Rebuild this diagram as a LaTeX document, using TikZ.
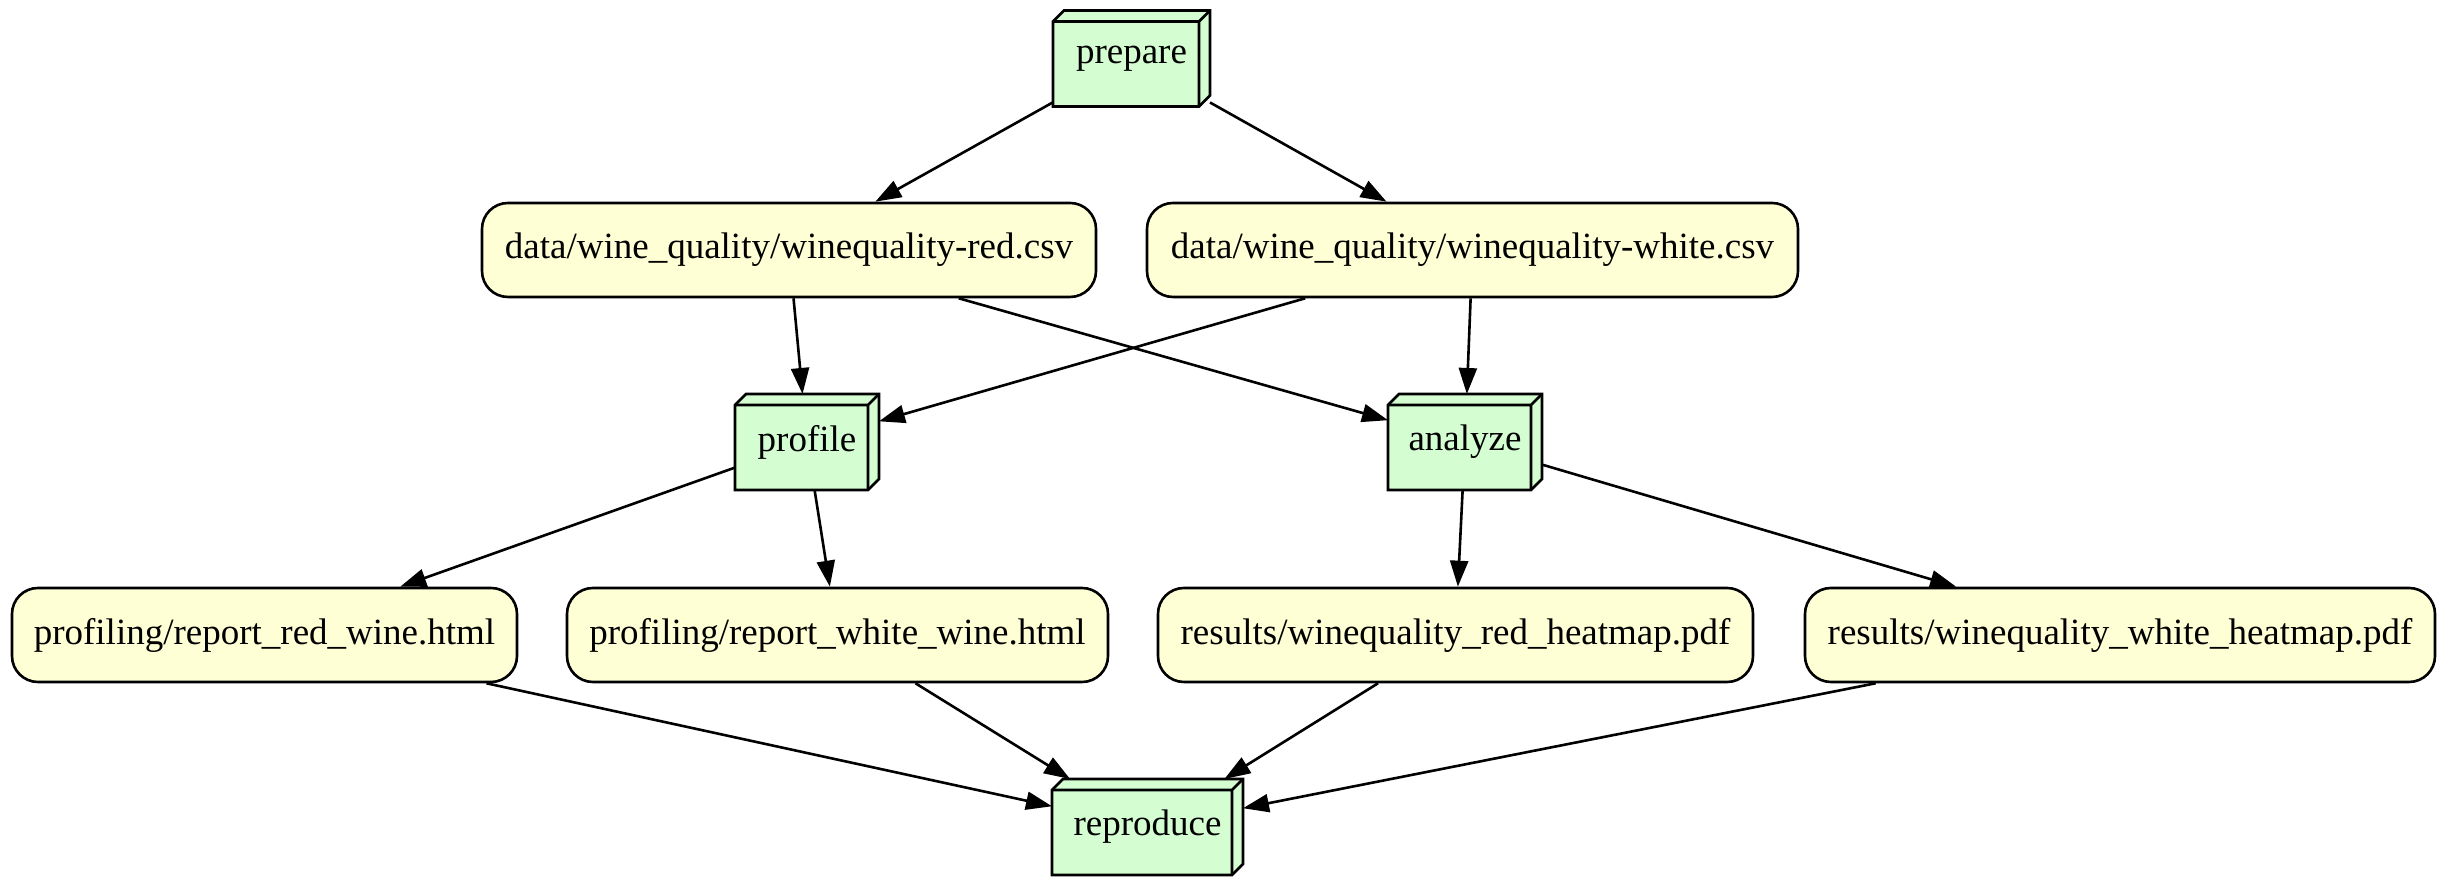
\documentclass[tikz,border=0pt]{standalone}
\usepackage{fontspec}
\setmainfont{Liberation Serif}
\usetikzlibrary{arrows.meta,calc,backgrounds}

\definecolor{taskgreen}{HTML}{D5FDD2}
\definecolor{fileyellow}{HTML}{FFFFD5}

\newcommand{\boxdepth}{5.5pt}
% front, top and side faces of a stage box
\newcommand{\taskfaces}[1]{%
  \filldraw[taskline] ($(#1.north west)+(0,-\boxdepth)$) -- ($(#1.north west)+(\boxdepth,0)$) -- (#1.north east)
    -- ($(#1.south east)+(0,\boxdepth)$) -- ($(#1.south east)+(-\boxdepth,0)$) -- (#1.south west) -- cycle;
  \draw[taskline, fill=none] ($(#1.north west)+(0,-\boxdepth)$) -- ($(#1.north east)+(-\boxdepth,-\boxdepth)$)
    -- ($(#1.south east)+(-\boxdepth,0)$) ($(#1.north east)+(-\boxdepth,-\boxdepth)$) -- (#1.north east);
}

\begin{document}
\begin{tikzpicture}[
    x=0.5pt, y=0.5pt,
    font=\fontsize{18.5}{22}\selectfont,
    file/.style={rectangle, rounded corners=13pt, draw, fill=fileyellow, line width=1.3pt, minimum height=47pt, inner sep=0pt},
    task/.style={rectangle, minimum height=48pt, inner sep=0pt, outer sep=0pt},
    taskline/.style={line width=1.3pt, line join=miter, fill=taskgreen},
    arrow/.style={-{Triangle[length=13pt,width=9pt]}, line width=1.3pt}
]
\useasboundingbox (0,0) rectangle (2448,886);

% stages
\node[task, minimum width=78.5pt] (prepare) at (1131.5,827.5) {prepare};
\node[task, minimum width=72pt] (profile) at (807,444) {profile};
\node[task, minimum width=77pt] (analyze) at (1465,444) {analyze};
\node[task, minimum width=95.5pt] (reproduce) at (1147.5,59) {reproduce};

% files
\node[file, minimum width=307pt] (redcsv) at (789,636) {data/wine\_quality/winequality-red.csv};
\node[file, minimum width=325.5pt] (whitecsv) at (1472.5,636) {data/wine\_quality/winequality-white.csv};
\node[file, minimum width=252.5pt] (reportred) at (264.5,251) {profiling/report\_red\_wine.html};
\node[file, minimum width=270.5pt] (reportwhite) at (837.5,251) {profiling/report\_white\_wine.html};
\node[file, minimum width=297.5pt] (redheat) at (1455.5,251) {results/winequality\_red\_heatmap.pdf};
\node[file, minimum width=315pt] (whiteheat) at (2120,251) {results/winequality\_white\_heatmap.pdf};

\begin{scope}[on background layer]
\foreach \n in {prepare,profile,analyze,reproduce}{\taskfaces{\n}}
\end{scope}

\draw[arrow] (prepare) -- (redcsv);
\draw[arrow] (prepare) -- (whitecsv);
\draw[arrow] (redcsv) -- (profile);
\draw[arrow] (redcsv) -- (analyze);
\draw[arrow] (whitecsv) -- (profile);
\draw[arrow] (whitecsv) -- (analyze);
\draw[arrow] (profile) -- (reportred);
\draw[arrow] (profile) -- (reportwhite);
\draw[arrow] (analyze) -- (redheat);
\draw[arrow] (analyze) -- (whiteheat);
\draw[arrow] (reportred) -- (reproduce);
\draw[arrow] (reportwhite) -- (reproduce);
\draw[arrow] (redheat) -- (reproduce);
\draw[arrow] (whiteheat) -- (reproduce);

\end{tikzpicture}
\end{document}
